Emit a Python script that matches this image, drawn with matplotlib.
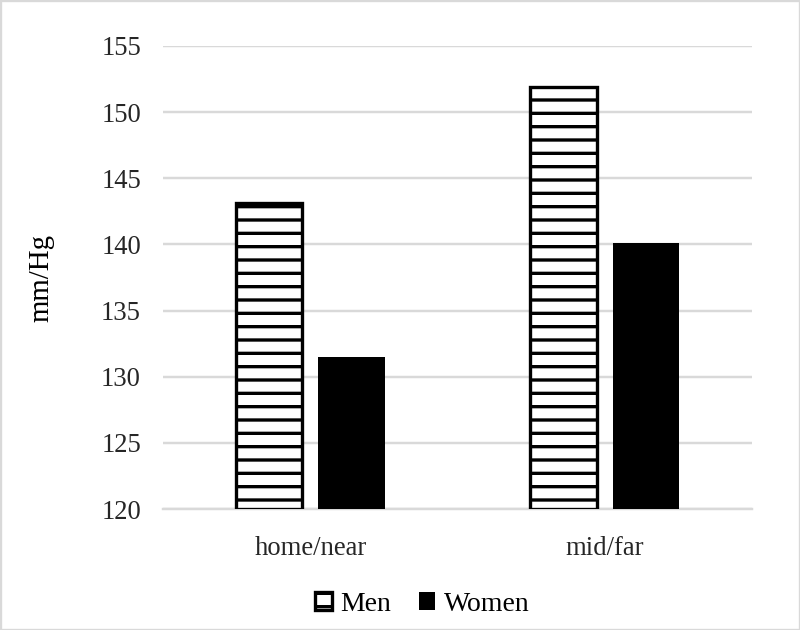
import numpy as np
import matplotlib.pyplot as plt
from matplotlib.patches import Rectangle

categories = ['home/near', 'mid/far']
men = [143.1, 151.9]
women = [131.5, 140.1]
y_ticks = [120, 125, 130, 135, 140, 145, 150, 155]

plt.rcParams['font.family'] = ['Liberation Serif', 'DejaVu Serif']
plt.rcParams['hatch.linewidth'] = 3.0

# 80 dpi so the '-' hatch spacing comes out near the original
fig = plt.figure(figsize=(10, 7.875), dpi=80)
ax = fig.add_axes([0.204, 0.192, 0.736, 0.735])

x = np.arange(len(categories))
w = 0.225
ax.bar(x - 0.14, np.array(men) - 120, bottom=120, width=w, color='white',
       edgecolor='black', linewidth=3.0, hatch='-', label='Men', zorder=3)
ax.bar(x + 0.14, np.array(women) - 120, bottom=120, width=w, color='black',
       edgecolor='black', linewidth=0, label='Women', zorder=3)

ax.set_xlim(-0.5, 1.5)
ax.set_ylim(120, 155)
ax.set_yticks(y_ticks)
ax.set_xticks(x)
ax.set_xticklabels(categories)
ax.tick_params(axis='both', length=0, labelsize=24, colors='#262626')
ax.tick_params(axis='y', pad=20)
ax.tick_params(axis='x', pad=24)
ax.grid(axis='y', color='#d9d9d9', linewidth=2.2, zorder=0)
for s in ['top', 'right', 'left']:
    ax.spines[s].set_visible(False)
ax.spines['bottom'].set_color('#d9d9d9')
ax.spines['bottom'].set_linewidth(2.2)
ax.set_ylabel('mm/Hg', fontsize=26, labelpad=42)

ax.legend(loc='upper center', bbox_to_anchor=(0.44, -0.125), ncol=2, frameon=False,
          fontsize=25, handlelength=0.6, handleheight=0.6, handletextpad=0.3,
          columnspacing=1.0)

fig.patches.append(Rectangle((0, 0), 1, 1, transform=fig.transFigure, fill=False,
                             edgecolor='#d9d9d9', linewidth=3))

fig.savefig('out.png', dpi=80)
